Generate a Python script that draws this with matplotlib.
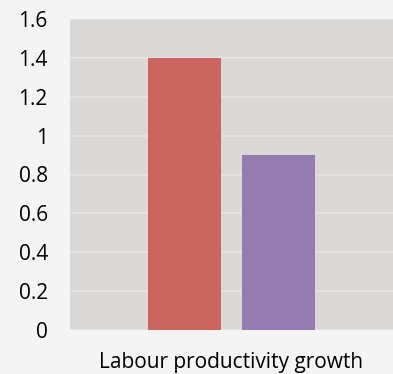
import matplotlib
matplotlib.use("Agg")
import matplotlib.pyplot as plt
import numpy as np

categories = ["Labour productivity growth"]
series_a = [1.4]
series_b = [0.9]
yticks = [0, 0.2, 0.4, 0.6, 0.8, 1, 1.2, 1.4, 1.6]
ytick_labels = ["0", "0.2", "0.4", "0.6", "0.8", "1", "1.2", "1.4", "1.6"]

plt.rcParams['font.family'] = ['Open Sans', 'DejaVu Sans']

fig = plt.figure(figsize=(3.93, 3.74), dpi=100)
fig.patch.set_facecolor('#f4f4f4')
ax = fig.add_axes([70/393, 44/374, 323/393, 311/374])
ax.set_facecolor('#d9d8d6')

x = np.arange(len(categories))
w = 0.226
off = 0.144
ax.bar(x - off, series_a, width=w, color='#cb6560', zorder=3)
ax.bar(x + off, series_b, width=w, color='#947bb0', zorder=3)

ax.set_xlim(-0.5, 0.5)
ax.set_ylim(0, 1.6)
ax.set_yticks(yticks)
ax.set_yticklabels(ytick_labels)
for yv in yticks:
    ax.axhline(yv, color='#e3e2e0', lw=1.5, zorder=2)
ax.set_xticks(x)
ax.set_xticklabels(categories)
ax.tick_params(axis='both', length=0, labelsize=15, colors='#000000')
ax.tick_params(axis='y', pad=16)
ax.tick_params(axis='x', pad=16)
for s in ax.spines.values():
    s.set_visible(False)

fig.savefig("out.png", dpi=100, facecolor=fig.get_facecolor())
